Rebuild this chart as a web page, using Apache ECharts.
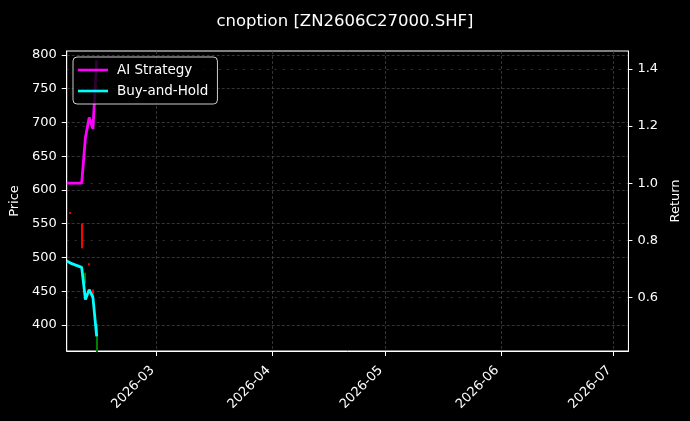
<!DOCTYPE html>
<html>
<head>
<meta charset="utf-8">
<script src="https://cdn.jsdelivr.net/npm/echarts@6/dist/echarts.min.js"></script>
<style>
html,body{margin:0;padding:0;background:#000;}
#chart{width:690px;height:421px;}
</style>
</head>
<body>
<div id="chart"></div>
<script>
// ---- data ----
const lineDates = ['2026-02-05','2026-02-06','2026-02-09','2026-02-10','2026-02-11','2026-02-12','2026-02-13'];
const aiStrategy = [1.0, 1.0, 1.0, 1.16, 1.23, 1.19, 1.43];
const buyAndHold = [0.727, 0.72, 0.705, 0.592, 0.627, 0.600, 0.463];

const candleDates = ['2026-02-06','2026-02-09','2026-02-10','2026-02-11','2026-02-12','2026-02-13'];
const candleOpen  = [565, 514, 477, 489, 437, 401];
const candleClose = [567, 550, 462, 491, 452, 360];
const candleLow   = [565, 514, 462, 489, 437, 360];
const candleHigh  = [567, 550, 477, 491, 452, 401];

const monthTicks = ['2026-03-01','2026-04-01','2026-05-01','2026-06-01','2026-07-01'];
const priceTicks = [400, 450, 500, 550, 600, 650, 700, 750, 800];
const returnTicks = [0.6, 0.8, 1.0, 1.2, 1.4];

const xMin = '2026-02-05';
const xMax = '2026-07-05';
const priceMin = 361.5, priceMax = 805.9;
const returnMin = 0.412, returnMax = 1.463;

// ---- build ----
const t = s => { const p = s.split('-').map(Number); return Date.UTC(p[0], p[1] - 1, p[2]); };
const aiData = lineDates.map((d, i) => [t(d), aiStrategy[i]]);
const bhData = lineDates.map((d, i) => [t(d), buyAndHold[i]]);
const candleData = candleDates.map((d, i) => [t(d), candleOpen[i], candleClose[i], candleLow[i], candleHigh[i]]);

const font = 'DejaVu Sans';
const grid = '#4a4a4a';

const chart = echarts.init(document.getElementById('chart'), null, {renderer: 'canvas'});
chart.setOption({
  backgroundColor: '#000',
  animation: false,
  title: {
    text: 'cnoption [ZN2606C27000.SHF]',
    left: 'center', top: 8,
    textStyle: {color: '#fff', fontFamily: font, fontSize: 16.5, fontWeight: 'normal'}
  },
  legend: {
    left: 73, top: 57,
    orient: 'vertical',
    padding: [6, 9, 6, 5],
    itemGap: 7,
    icon: 'rect',
    itemWidth: 30, itemHeight: 2.6,
    backgroundColor: 'rgba(0,0,0,0.8)',
    borderColor: '#cccccc', borderWidth: 1, borderRadius: 4,
    textStyle: {color: '#fff', fontFamily: font, fontSize: 13.5, padding: [0, 0, 0, 4]},
    data: ['AI Strategy', 'Buy-and-Hold']
  },
  grid: {
    left: 66, right: 61, top: 51, bottom: 70,
    show: true, borderColor: '#fff', borderWidth: 1, backgroundColor: '#000'
  },
  xAxis: {
    type: 'value',
    min: t(xMin), max: t(xMax),
    axisLine: {show: true, lineStyle: {color: '#fff'}},
    axisTick: {show: true, length: 5, lineStyle: {color: '#fff'}, customValues: monthTicks.map(t)},
    axisLabel: {
      color: '#fff', fontFamily: font, fontSize: 13, rotate: 45, margin: 13,
      padding: [0, 6, 0, 0],
      customValues: monthTicks.map(t),
      formatter: v => { const d = new Date(v); return d.getUTCFullYear() + '-' + String(d.getUTCMonth() + 1).padStart(2, '0'); }
    },
    splitLine: {show: true, lineStyle: {color: grid, width: 0.7, type: [3, 2]}}
  },
  yAxis: [
    {
      type: 'value', position: 'left',
      min: priceMin, max: priceMax,
      name: 'Price', nameLocation: 'middle', nameGap: 40, nameRotate: 90,
      nameTextStyle: {color: '#fff', fontFamily: font, fontSize: 13},
      axisLine: {show: true, lineStyle: {color: '#fff'}},
      axisTick: {show: true, length: 5, lineStyle: {color: '#fff'}, customValues: priceTicks},
      axisLabel: {color: '#fff', fontFamily: font, fontSize: 13, margin: 10, customValues: priceTicks},
      splitLine: {show: true, lineStyle: {color: grid, width: 0.7, type: [3, 2]}}
    },
    {
      type: 'value', position: 'right',
      min: returnMin, max: returnMax,
      name: 'Return', nameLocation: 'middle', nameGap: 31, nameRotate: 90,
      nameTextStyle: {color: '#fff', fontFamily: font, fontSize: 13},
      axisLine: {show: true, lineStyle: {color: '#fff'}},
      axisTick: {show: true, length: 4, lineStyle: {color: '#fff'}, customValues: returnTicks},
      axisLabel: {color: '#fff', fontFamily: font, fontSize: 13, margin: 9, customValues: returnTicks,
        formatter: v => v.toFixed(1)},
      splitLine: {show: true, lineStyle: {color: grid, width: 0.7, type: [2, 6]}}
    }
  ],
  series: [
    {
      name: 'Price', type: 'candlestick', yAxisIndex: 0,
      barWidth: 1.5,
      itemStyle: {color: '#ff0000', color0: '#008000', borderColor: '#ff0000', borderColor0: '#008000', borderWidth: 1},
      data: candleData
    },
    {
      name: 'AI Strategy', type: 'line', yAxisIndex: 1,
      symbol: 'none', showSymbol: false,
      lineStyle: {color: '#ff00ff', width: 2.8},
      itemStyle: {color: '#ff00ff'},
      data: aiData
    },
    {
      name: 'Buy-and-Hold', type: 'line', yAxisIndex: 1,
      symbol: 'none', showSymbol: false,
      lineStyle: {color: '#00ffff', width: 2.8},
      itemStyle: {color: '#00ffff'},
      data: bhData
    }
  ]
});
</script>
</body>
</html>
